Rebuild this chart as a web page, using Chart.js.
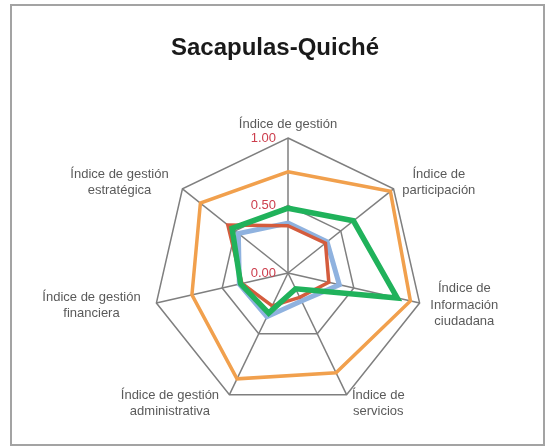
<!DOCTYPE html>
<html>
<head>
<meta charset="utf-8">
<script src="https://cdn.jsdelivr.net/npm/chart.js@4.4.1/dist/chart.umd.min.js"></script>
<style>
  html, body { margin: 0; padding: 0; background: #fff; }
  #wrap { position: relative; width: 548px; height: 448px; }
  #frame {
    position: absolute; left: 10px; top: 4px; width: 531px; height: 438px;
    border: 2px solid #a3a3a3; pointer-events: none;
  }
  #title {
    position: absolute; left: 0; top: 35px; width: 550px; text-align: center;
    font: bold 24px "Liberation Sans", Arial, sans-serif; line-height: 24px; color: #1a1a1a;
  }
  canvas { position: absolute; left: 0; top: 0; }
</style>
</head>
<body>
<div id="wrap">
  <canvas id="radar-chart" width="548" height="448"></canvas>
  <div id="frame"></div>
  <div id="title">Sacapulas-Quiché</div>
</div>
<script>
// Axis labels (one entry per spoke, split into lines)
const axisLabels = [
    ['Índice de gestión'],
    ['Índice de', 'participación'],
    ['Índice de', 'Información', 'ciudadana'],
    ['Índice de', 'servicios'],
    ['Índice de gestión', 'administrativa'],
    ['Índice de gestión', 'financiera'],
    ['Índice de gestión', 'estratégica']
];

// Series values, same order as axisLabels
const seriesOrange = [0.75, 0.97, 0.93, 0.82, 0.87, 0.73, 0.83];
const seriesRed    = [0.35, 0.355, 0.31, 0.20, 0.27, 0.35, 0.57];
const seriesBlue   = [0.37, 0.37, 0.39, 0.23, 0.36, 0.37, 0.47];
const seriesGreen  = [0.48, 0.62, 0.83, 0.13, 0.33, 0.36, 0.53];

// Radial tick values
const tickValues = [0, 0.5, 1];

const labelFont = '13px "Liberation Sans", Arial, sans-serif';

// Draw tick labels and spoke labels from the radial scale positions
const radarTextPlugin = {
    id: 'radarText',
    afterDraw: function(chart) {
        const scale = chart.scales.r;
        const ctx = chart.ctx;
        ctx.save();

        // red tick labels, left of the vertical axis
        ctx.font = labelFont;
        ctx.fillStyle = '#cc3d4c';
        ctx.textAlign = 'right';
        ctx.textBaseline = 'middle';
        tickValues.forEach(function(v) {
            const p = scale.getPointPositionForValue(0, v);
            ctx.fillText(v.toFixed(2), p.x - 12, p.y);
        });

        // spoke labels
        ctx.fillStyle = '#5a5a5a';
        ctx.textAlign = 'center';
        const lh = 16.5;
        axisLabels.forEach(function(lines, i) {
            const pos = scale.getPointPosition(i, scale.drawingArea + 10);
            const angle = scale.getIndexAngle(i);
            const s = Math.sin(angle);
            let w = 0;
            lines.forEach(function(l) { w = Math.max(w, ctx.measureText(l).width); });
            let cx = pos.x;
            if (s > 0.1) cx = pos.x + 1 + w / 2;
            else if (s < -0.1) cx = pos.x - 6 - w / 2;
            const h = lines.length * lh;
            let cy = pos.y;
            if (Math.abs(s) <= 0.1) cy = pos.y - 4;
            const top = cy - h / 2;
            lines.forEach(function(l, k) {
                ctx.fillText(l, cx, top + lh * k + lh / 2);
            });
        });
        ctx.restore();
    }
};

function makeSeries(label, data, color, width, order) {
    return {
        label: label,
        data: data,
        borderColor: color,
        backgroundColor: 'transparent',
        borderWidth: width,
        fill: false,
        pointRadius: 0,
        pointHoverRadius: 0,
        order: order
    };
}

document.addEventListener('DOMContentLoaded', function() {
    const canvas = document.getElementById('radar-chart');

    new Chart(canvas, {
        type: 'radar',
        data: {
            labels: axisLabels,
            datasets: [
                makeSeries('Serie 1', seriesOrange, '#f1a04d', 3.5, 4),
                makeSeries('Serie 2', seriesBlue, '#8fb2df', 5, 3),
                makeSeries('Serie 3', seriesRed, '#d45c3d', 3.5, 2),
                makeSeries('Serie 4', seriesGreen, '#20b25b', 5.5, 1)
            ]
        },
        options: {
            responsive: false,
            animation: false,
            layout: {
                padding: { left: 153, right: 125, top: 138, bottom: 40 }
            },
            elements: {
                line: { tension: 0, borderJoinStyle: 'miter' }
            },
            plugins: {
                legend: { display: false },
                tooltip: { enabled: false },
                title: { display: false }
            },
            scales: {
                r: {
                    min: 0,
                    max: 1,
                    ticks: { display: false, stepSize: 0.5 },
                    pointLabels: { display: false },
                    grid: { color: '#7f7f7f', lineWidth: 1.5 },
                    angleLines: { color: '#7f7f7f', lineWidth: 1.5 }
                }
            }
        },
        plugins: [radarTextPlugin]
    });
});
</script>
</body>
</html>
